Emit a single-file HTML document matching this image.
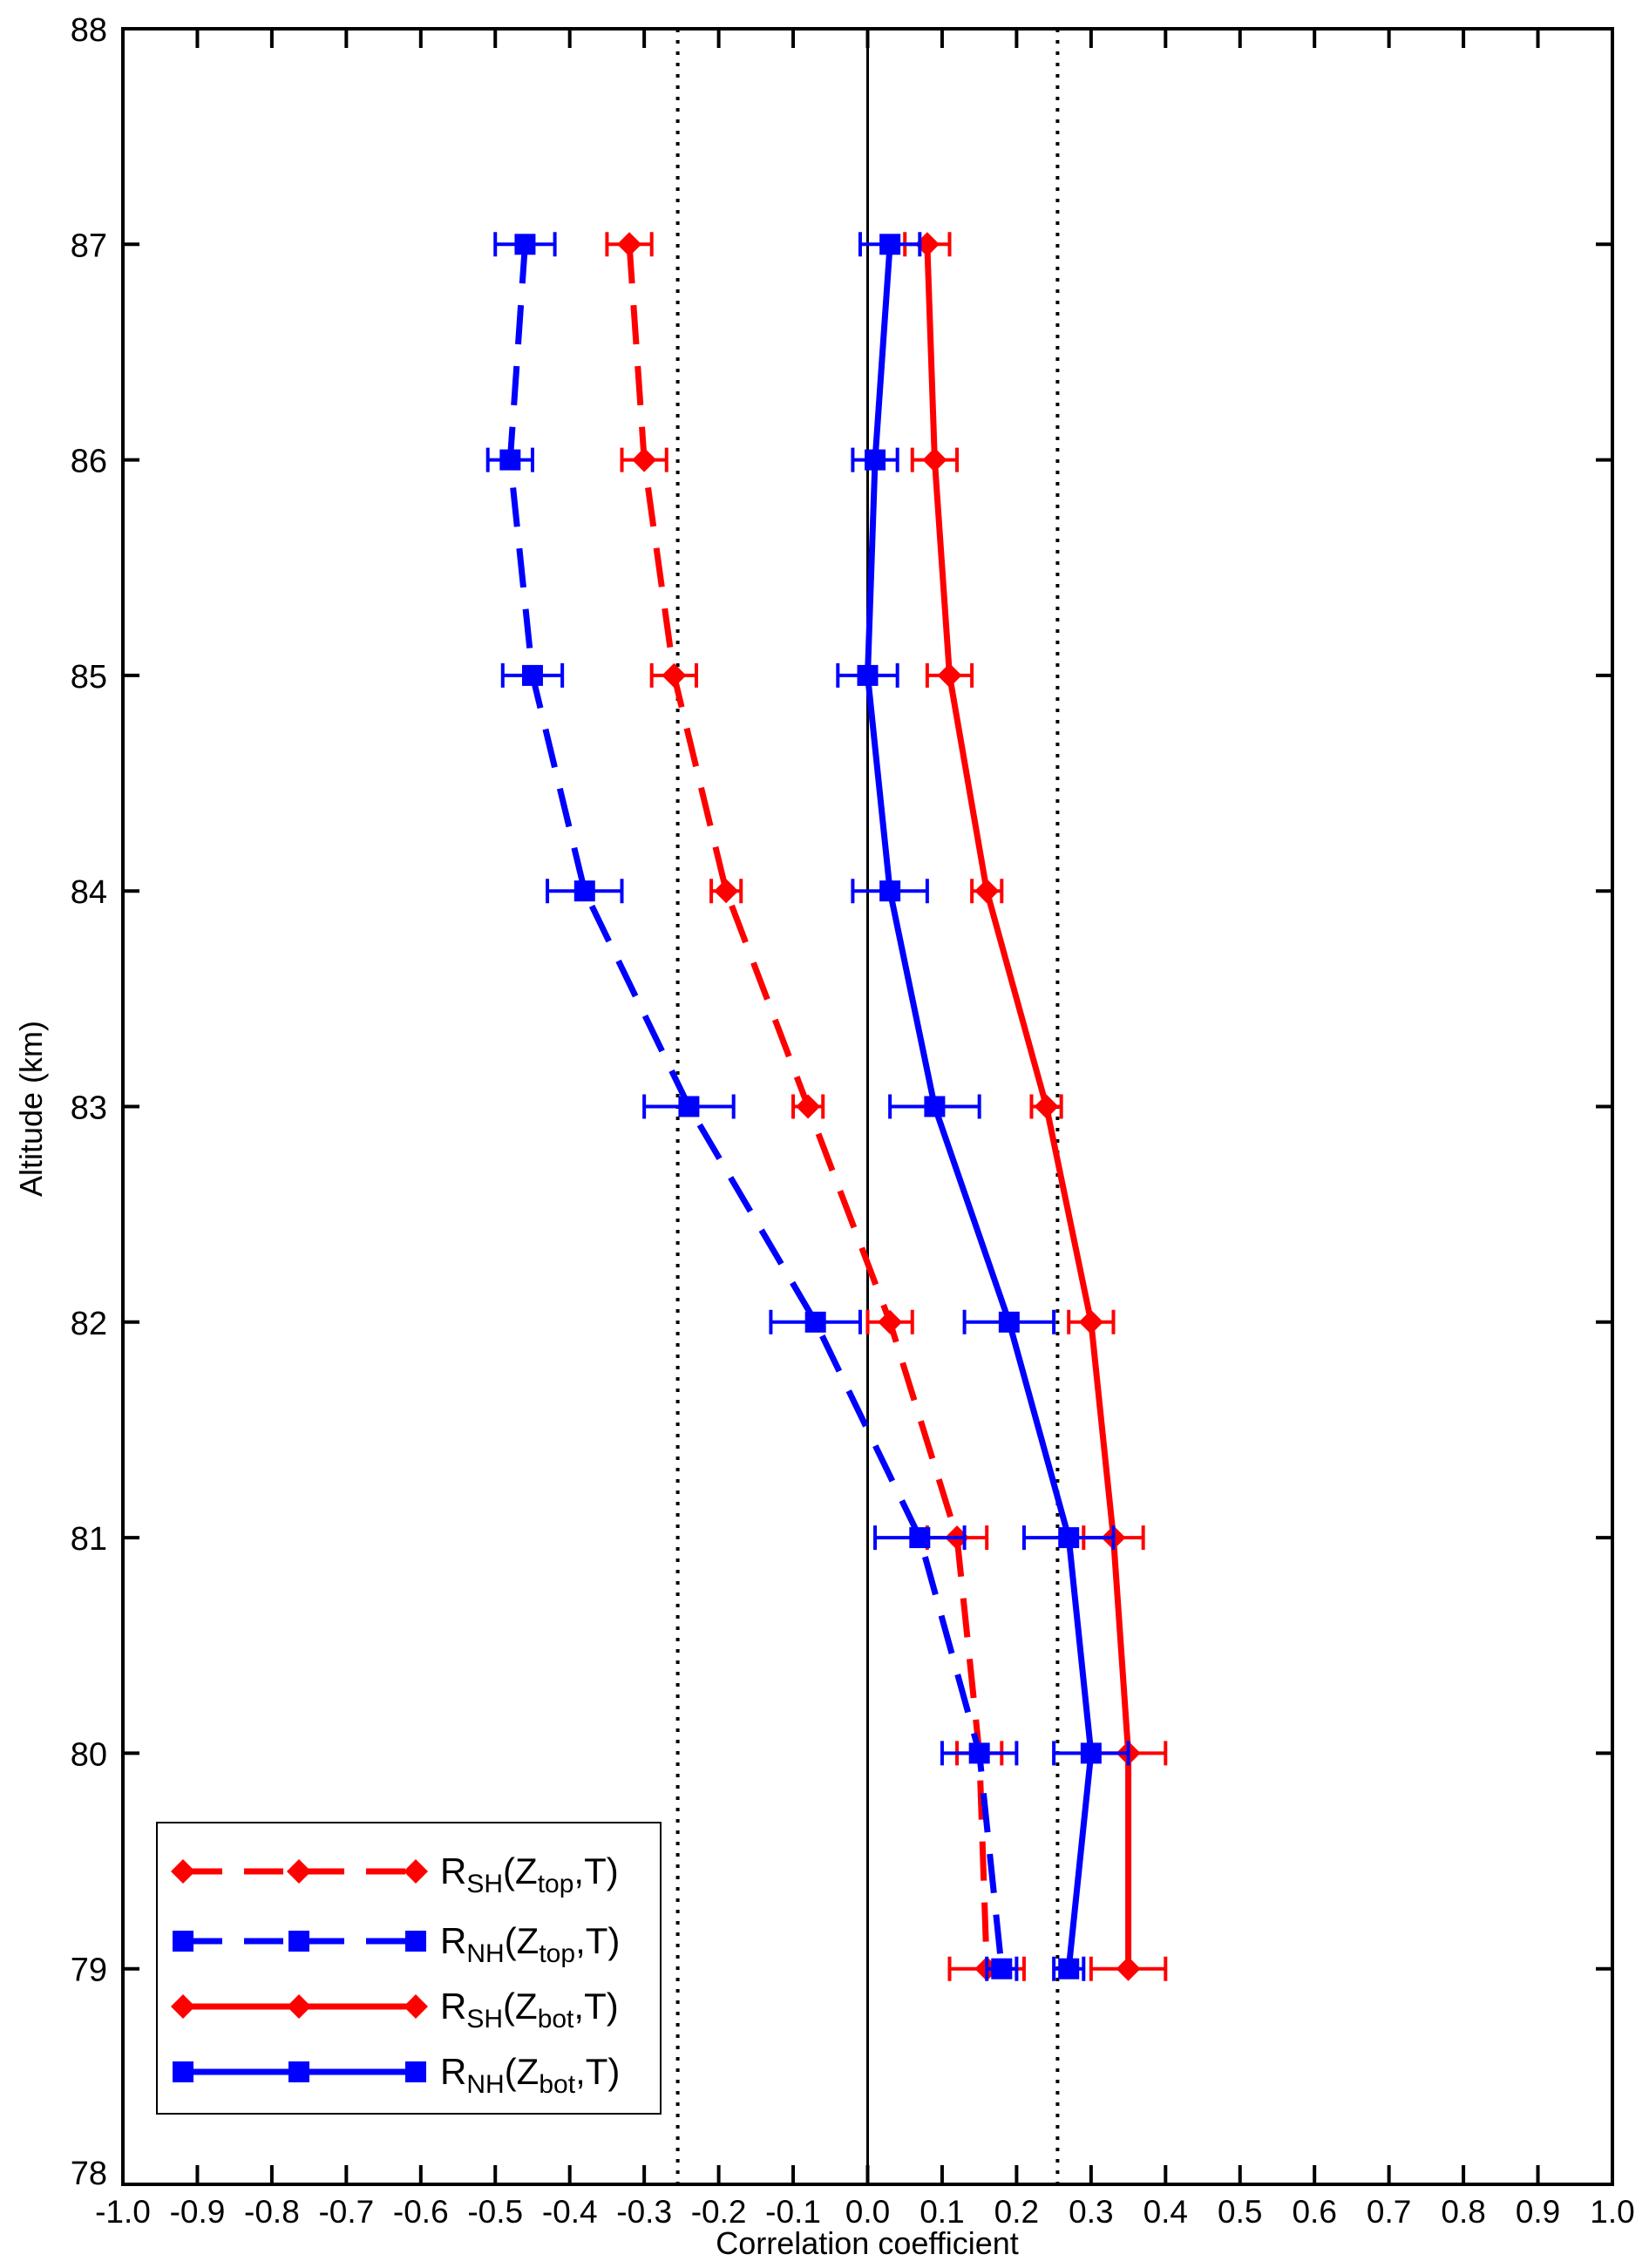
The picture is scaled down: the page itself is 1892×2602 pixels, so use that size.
<!DOCTYPE html>
<html><head><meta charset="utf-8"><style>
html,body{margin:0;padding:0;background:#fff;}
svg{display:block;font-family:"Liberation Sans",sans-serif;}
</style></head><body>
<svg id="chart" width="1892" height="2602" viewBox="0 0 1892 2602" xmlns="http://www.w3.org/2000/svg">
<g id="grid"></g><g id="series"></g><g id="axes"></g><g id="legend"></g>
<text x="995" y="2586" font-size="36" text-anchor="middle">Correlation coefficient</text>
<text x="48" y="1272" font-size="36" text-anchor="middle" transform="rotate(-90 48 1272)">Altitude (km)</text>
</svg>
<script>
const altitudes=[87,86,85,84,83,82,81,80,79];
const shTop=[-0.32,-0.30,-0.26,-0.19,-0.08,0.03,0.12,0.15,0.16];
const shTopErr=[0.03,0.03,0.03,0.02,0.02,0.03,0.04,0.03,0.05];
const nhTop=[-0.46,-0.48,-0.45,-0.38,-0.24,-0.07,0.07,0.15,0.18];
const nhTopErr=[0.04,0.03,0.04,0.05,0.06,0.06,0.06,0.05,0.02];
const shBot=[0.08,0.09,0.11,0.16,0.24,0.30,0.33,0.35,0.35];
const shBotErr=[0.03,0.03,0.03,0.02,0.02,0.03,0.04,0.05,0.05];
const nhBot=[0.03,0.01,0.00,0.03,0.09,0.19,0.27,0.30,0.27];
const nhBotErr=[0.04,0.03,0.04,0.05,0.06,0.06,0.06,0.05,0.02];
const xTicks=[-1.0,-0.9,-0.8,-0.7,-0.6,-0.5,-0.4,-0.3,-0.2,-0.1,0.0,0.1,0.2,0.3,0.4,0.5,0.6,0.7,0.8,0.9,1.0];
const yTicks=[78,79,80,81,82,83,84,85,86,87,88];
const sigLevels=[-0.255,0.255];

const L=141,R=1850,T=33,B=2506;
const xs=v=>L+(v+1)/2*(R-L);
const ys=v=>B-(v-78)/10*(B-T);
const NS="http://www.w3.org/2000/svg";
function mk(tag,attrs,parent){const e=document.createElementNS(NS,tag);for(const k in attrs)e.setAttribute(k,attrs[k]);parent.appendChild(e);return e;}
const grid=document.getElementById('grid'),ser=document.getElementById('series'),axes=document.getElementById('axes'),leg=document.getElementById('legend');

let z=mk('line',{x1:xs(0),x2:xs(0),y1:T,y2:B,stroke:'#000','stroke-width':3},grid);


sigLevels.forEach(s=>{const l=mk('line',{x1:xs(s),x2:xs(s),y1:T,y2:B,stroke:'#000','stroke-width':4,'stroke-dasharray':'4 9'},grid);

});

function marker(kind,x,y,color,g){
 if(kind==='d'){return mk('polygon',{points:`${x-14},${y} ${x},${y-14} ${x+14},${y} ${x},${y+14}`,fill:color},g);}
 return mk('rect',{x:x-12,y:y-12,width:24,height:24,fill:color},g);
}
function drawSeries(name,vals,errs,color,dashed,kind){
 const g=mk('g',{},ser);
 
 
 const pts=vals.map((v,i)=>xs(v)+','+ys(altitudes[i])).join(' ');
 mk('polyline',{points:pts,fill:'none',stroke:color,'stroke-width':7,'stroke-dasharray':dashed?'45 25':'none'},g);
 vals.forEach((v,i)=>{const y=ys(altitudes[i]),x0=xs(v-errs[i]),x1=xs(v+errs[i]);
  mk('path',{d:`M${x0},${y}H${x1}M${x0},${y-14}V${y+14}M${x1},${y-14}V${y+14}`,stroke:color,'stroke-width':4,fill:'none'},g);
  const m=marker(kind,xs(v),y,color,g);
  
  
 });
}
drawSeries('sh-top-series',shTop,shTopErr,'#ff0000',true,'d');
drawSeries('nh-top-series',nhTop,nhTopErr,'#0000ff',true,'s');
drawSeries('sh-bot-series',shBot,shBotErr,'#ff0000',false,'d');
drawSeries('nh-bot-series',nhBot,nhBotErr,'#0000ff',false,'s');

const fr=mk('rect',{x:L,y:T,width:R-L,height:B-T,fill:'none',stroke:'#000','stroke-width':4},axes);


xTicks.forEach(t=>{const x=xs(t);
 mk('path',{d:`M${x},${B}V${B-22}M${x},${T}V${T+22}`,stroke:'#000','stroke-width':4},axes);
 const tx=mk('text',{x:x,y:B+44,'font-size':37,'text-anchor':'middle'},axes);tx.textContent=t.toFixed(1);
 
 
});
yTicks.forEach(t=>{const y=ys(t);
 mk('path',{d:`M${L},${y}H${L+19}M${R},${y}H${R-19}`,stroke:'#000','stroke-width':4},axes);
 const tx=mk('text',{x:L-18,y:y+(t===78?0:14),'font-size':38,'text-anchor':'end'},axes);tx.textContent=t;
 
 
});

const lb=mk('rect',{x:180,y:2091,width:578,height:334,fill:'#fff',stroke:'#000','stroke-width':2},leg);


const legItems=[['R','SH','top','#ff0000',true,'d',2147],['R','NH','top','#0000ff',true,'s',2227],['R','SH','bot','#ff0000',false,'d',2302],['R','NH','bot','#0000ff',false,'s',2377]];
legItems.forEach(it=>{const g=mk('g',{},leg);
 
 
 const y=it[6];
 mk('line',{x1:210,x2:477,y1:y,y2:y,stroke:it[3],'stroke-width':7,'stroke-dasharray':it[4]?'45 25':'none'},g);
 [210,343,477].forEach(x=>marker(it[5],x,y,it[3],g));
 const t=mk('text',{x:505,y:y+14,'font-size':42},g);
 t.innerHTML=`R<tspan font-size="30" dy="10">${it[1]}</tspan><tspan dy="-10">(Z</tspan><tspan font-size="30" dy="10">${it[2]}</tspan><tspan dy="-10">,T)</tspan>`;
});
</script>
</body></html>
